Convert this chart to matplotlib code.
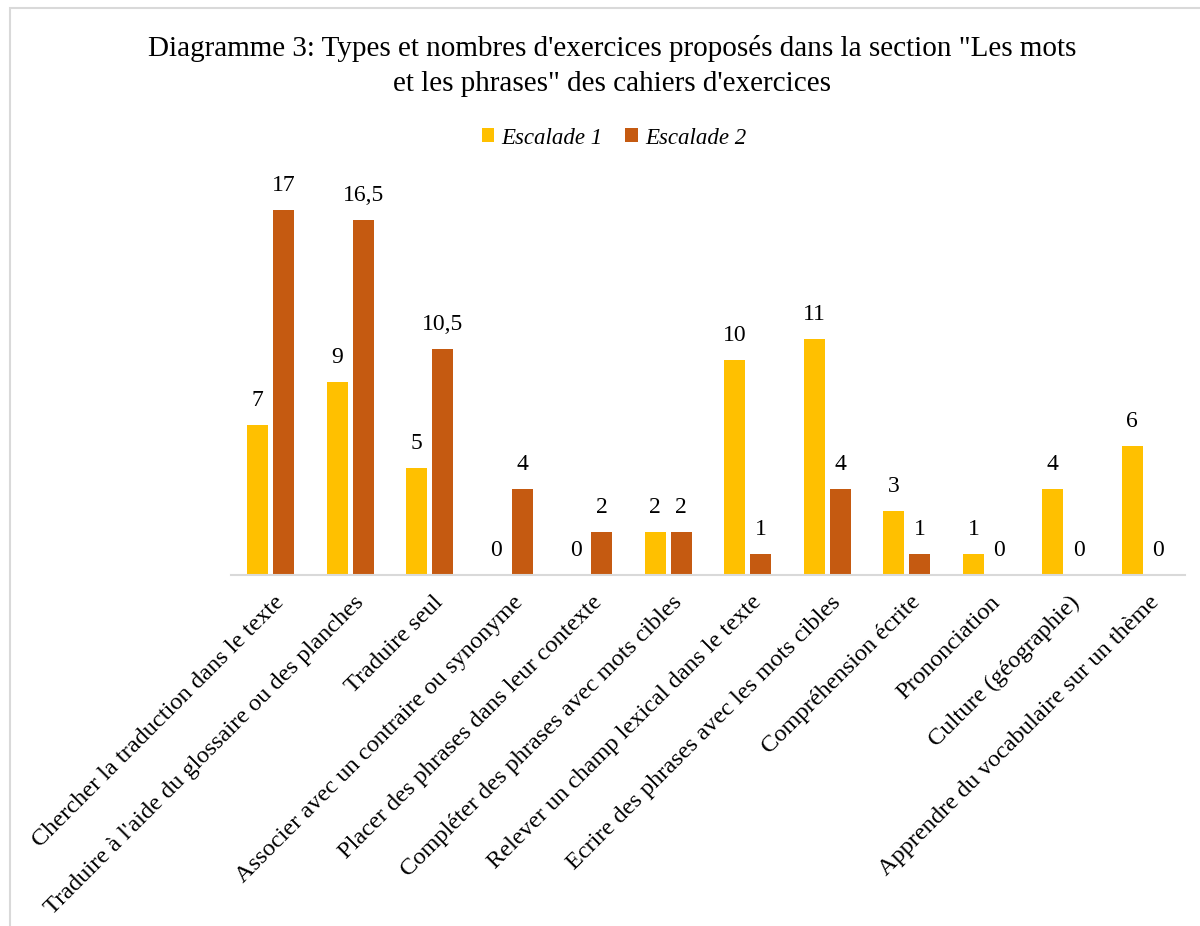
import matplotlib
matplotlib.use("Agg")
import matplotlib.pyplot as plt
import numpy as np
from matplotlib.patches import Rectangle

categories = [
    "Chercher la traduction dans le texte",
    "Traduire à l'aide du glossaire ou des planches",
    "Traduire seul",
    "Associer avec un contraire ou synonyme",
    "Placer des phrases dans leur contexte",
    "Compléter des phrases avec mots cibles",
    "Relever un champ lexical dans le texte",
    "Ecrire des phrases avec les mots cibles",
    "Compréhension écrite",
    "Prononciation",
    "Culture (géographie)",
    "Apprendre du vocabulaire sur un thème",
]
escalade1 = [7, 9, 5, 0, 0, 2, 10, 11, 3, 1, 4, 6]
escalade2 = [17, 16.5, 10.5, 4, 2, 2, 1, 4, 1, 0, 0, 0]
series_names = ["Escalade 1", "Escalade 2"]
title = "Diagramme 3: Types et nombres d'exercices proposés dans la section \"Les mots\net les phrases\" des cahiers d'exercices"

c1 = "#FFC000"
c2 = "#C55A11"
serif = ["Liberation Serif", "DejaVu Serif"]

fig = plt.figure(figsize=(12, 9.26), dpi=100)
W, H = 1200, 926
ax = fig.add_axes([231 / W, 1 - 575 / H, (1185 - 231) / W, (575 - 188) / H])

x = np.arange(len(categories))
bw = 0.264
gap = 0.03
b1 = ax.bar(x - bw / 2 - gap, escalade1, bw, color=c1, label=series_names[0])
b2 = ax.bar(x + bw / 2 + gap, escalade2, bw, color=c2, label=series_names[1])

def fmt(v):
    return ("%g" % v).replace(".", ",")

for bars, vals in ((b1, escalade1), (b2, escalade2)):
    for rect, v in zip(bars, vals):
        ax.annotate(fmt(v), (rect.get_x() + rect.get_width() / 2, v),
                    xytext=(0, 10), textcoords="offset points",
                    ha="center", va="bottom", fontsize=17, family=serif)

ax.set_xlim(-0.5, len(categories) - 0.5)
ax.set_ylim(0, 18)
ax.set_yticks([])
for s in ["top", "right", "left"]:
    ax.spines[s].set_visible(False)
ax.spines["bottom"].set_color("#D9D9D9")
ax.spines["bottom"].set_linewidth(1.5)
ax.set_xticks(x)
ax.set_xticklabels(categories, rotation=45, ha="right", rotation_mode="anchor",
                   fontsize=17.6, family=serif)
ax.tick_params(axis="x", length=0, pad=12)
for lbl in ax.get_xticklabels():
    lbl.set_transform(lbl.get_transform() + matplotlib.transforms.ScaledTranslation(3 / 100, 0, fig.dpi_scale_trans))

fig.text(612 / W, 1 - 66 / H, title, ha="center", va="center", fontsize=21,
         family=serif, linespacing=1.45)

leg = fig.legend(handles=[b1, b2], labels=series_names, loc="center",
                 bbox_to_anchor=(614 / W, 1 - 138 / H), ncol=2, frameon=False,
                 prop={"family": serif, "style": "italic", "size": 16.5},
                 handlelength=0.55, handleheight=0.55, handletextpad=0.3,
                 columnspacing=1.0)

fig.patches.append(Rectangle((10 / W, -0.1), 1.2, 1 - 8 / H + 0.1,
                             transform=fig.transFigure, fill=False,
                             edgecolor="#D9D9D9", linewidth=1.5))

fig.savefig("out.png", dpi=100, facecolor="white")
